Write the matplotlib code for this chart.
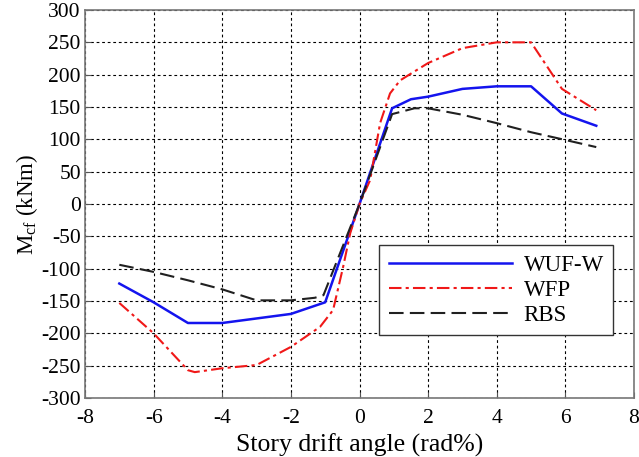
import matplotlib.pyplot as plt

plt.rcParams['font.family'] = ['Liberation Serif', 'DejaVu Serif']
plt.rcParams['mathtext.fontset'] = 'custom'
plt.rcParams['mathtext.rm'] = 'Liberation Serif'
plt.rcParams['mathtext.it'] = 'Liberation Serif:italic'
plt.rcParams['axes.unicode_minus'] = False

# drift angle (rad%) and moment (kNm)
wuf_x = [-7, -6, -5, -4, -2, -1.0, 0, 0.95, 1.5, 2, 3, 4, 5, 5.9, 6.9]
wuf_y = [-123, -152, -184, -184, -170, -152, 0, 148, 162, 166, 178, 182, 182, 140, 121]

wfp_x = [-7, -6, -5, -4.8, -4, -3, -2, -1.15, -0.77, -0.48, -0.27, 0, 0.31, 0.6, 0.89, 1.18, 1.45, 2, 3, 4, 5, 5.9, 6.9]
wfp_y = [-153, -200, -257, -260, -254, -249, -221, -190, -164, -98, -45, 0, 37, 125, 171, 191, 200, 218, 241, 250, 250, 178, 145]

rbs_x = [-7, -6, -5, -4, -3, -2, -1.3, -1.05, 0, 0.95, 1.6, 2, 3, 4, 5, 6, 6.9]
rbs_y = [-94, -105, -118, -132, -149, -149, -145, -141, 0, 139, 148, 148, 138, 125, 111, 99, 88]

fig = plt.figure(figsize=(6.39, 4.57), dpi=100)
ax = fig.add_axes([85 / 639, 1 - 398 / 457, 549 / 639, 388 / 457])

ax.plot(wuf_x, wuf_y, color='#1414ee', lw=1.8, label='WUF-W')
ax.plot(wfp_x, wfp_y, color='#f01818', lw=1.5, linestyle=(0, (6, 2, 1.5, 2)), label='WFP')
ax.plot(rbs_x, rbs_y, color='#202020', lw=1.5, linestyle=(0, (7, 3)), label='RBS')

ax.set_xlim(-8, 8)
ax.set_ylim(-300, 300)
ax.set_xticks(range(-8, 9, 2))
ax.set_yticks(range(-300, 301, 50))
ax.grid(True, color='black', linestyle=(0, (2.5, 2.5)), lw=0.8)
ax.tick_params(direction='in', labelsize=15.5, length=4, color='#555555')
ax.tick_params(axis='x', pad=8)
ax.tick_params(axis='y', pad=3)
for sp in ax.spines.values():
    sp.set_color('#777777')
    sp.set_linewidth(1.2)

ax.set_xlabel('Story drift angle (rad%)', fontsize=18.5, labelpad=4)
ax.set_ylabel(r'M$_{\rm cf}$ (kNm)', fontsize=16.5, labelpad=1)

leg = ax.legend(loc='lower right', bbox_to_anchor=(0.962, 0.162), fontsize=16.5,
                fancybox=False, framealpha=1, edgecolor='#333333',
                handlelength=5.4, handletextpad=0.5, borderpad=0.4,
                labelspacing=0.18, borderaxespad=0)
leg.get_frame().set_linewidth(1.0)

fig.savefig('out.png', dpi=100)
